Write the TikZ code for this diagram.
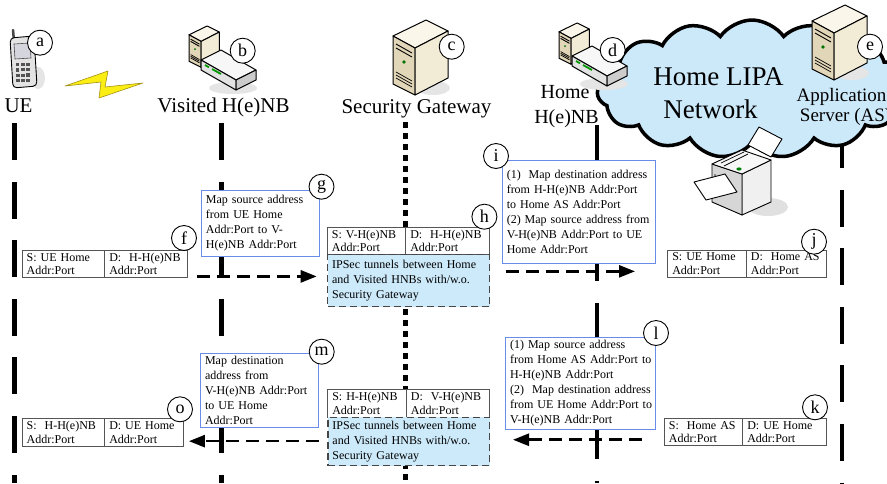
\documentclass[tikz,border=0pt]{standalone}
\usepackage{fontspec}
\setmainfont{Liberation Serif}
\usetikzlibrary{arrows.meta,shapes.symbols,calc}

\definecolor{notec}{RGB}{105,140,235}
\definecolor{cellc}{RGB}{85,85,85}
\definecolor{tunc}{RGB}{70,70,70}
\definecolor{tunfill}{RGB}{205,234,250}
\definecolor{cloudfill}{RGB}{204,233,250}
\definecolor{beigeR}{RGB}{242,235,214}
\definecolor{beigeL}{RGB}{226,214,184}
\definecolor{beigeT}{RGB}{250,246,234}
\definecolor{boltc}{RGB}{250,238,20}
\definecolor{boltline}{RGB}{165,145,20}

% one unbreakable line of box text
\newcommand\keepline[1]{\mbox{#1}}

% beige server tower, local frame 55 x 75, y pointing down
\newcommand\drawtower[2]{%
  \begin{scope}[shift={#1}, scale=#2]
    \fill[black!10] (40,68) ellipse (17 and 7);
    \filldraw[fill=beigeT, line width=1pt, line join=round] (0,16) -- (33,0) -- (55,11) -- (22,28) -- cycle;
    \filldraw[fill=beigeL, line width=1pt, line join=round] (0,16) -- (22,28) -- (22,75) -- (0,64) -- cycle;
    \filldraw[fill=beigeR, line width=1pt, line join=round] (22,28) -- (55,11) -- (55,58) -- (22,75) -- cycle;
    \draw[line width=0.9pt] (3,24) -- (19,33) (3,28) -- (19,37);
    \fill[green!45!black] (11,42) circle (1.8);
    \draw[line width=0.7pt] (3,52) -- (19,61) (3,55) -- (19,64) (3,58) -- (19,67);
  \end{scope}}

% flat access-point box, local frame 55 x 40
\newcommand\drawrouter[1]{%
  \begin{scope}[shift={#1}]
    \fill[black!10] (32,38) ellipse (24 and 6);
    \filldraw[fill=gray!6, line width=1pt, line join=round] (0,10) -- (20,0) -- (55,20) -- (35,30) -- cycle;
    \filldraw[fill=gray!22, line width=1pt, line join=round] (0,10) -- (35,30) -- (35,40) -- (0,20) -- cycle;
    \filldraw[fill=gray!40, line width=1pt, line join=round] (35,30) -- (55,20) -- (55,30) -- (35,40) -- cycle;
    \draw[green!60!black, line width=1.8pt] (4,15) -- (8,17.3) (11,19) -- (20,24);
  \end{scope}}

\begin{document}
\begin{tikzpicture}[x=1pt, y=-1pt,
  hdr/.style={font=\fontsize{21}{21}\selectfont, inner sep=0pt, anchor=base},
  hdrs/.style={font=\fontsize{20}{20}\selectfont, inner sep=0pt, anchor=base},
  hdrx/.style={font=\fontsize{19}{19}\selectfont, inner sep=0pt, anchor=base},
  big/.style={font=\fontsize{27}{27}\selectfont, inner sep=0pt, anchor=base},
  lifeline/.style={line width=4.5pt},
  longdash/.style={lifeline, dash pattern=on 37pt off 21.6pt},
  note/.style={rectangle, draw=notec, line width=1.1pt, fill=white, anchor=north west,
    inner xsep=4.5pt, inner ysep=0pt, align=left, font=\fontsize{12}{15}\selectfont},
  cell/.style={rectangle, draw=cellc, line width=0.9pt, fill=white, anchor=north west,
    inner xsep=4.5pt, inner ysep=0pt, align=left, font=\fontsize{12}{13.5}\selectfont},
  tunnel/.style={rectangle, draw=tunc, line width=1.3pt, dash pattern=on 7pt off 4pt, fill=tunfill,
    anchor=north west, inner xsep=4.5pt, inner ysep=0pt, align=left, font=\fontsize{12}{15}\selectfont},
  tag/.style={circle, draw, line width=0.9pt, fill=white, minimum size=25pt, inner sep=0pt,
    font=\fontsize{18}{18}\selectfont},
  msg/.style={line width=2.6pt, dash pattern=on 13pt off 7pt, -{Triangle[length=16pt,width=12pt]}}
]
\useasboundingbox (0,0) rectangle (887,483);
\clip (0,0) rectangle (887,483);
\fill[white] (0,0) rectangle (887,483);

% ---- lifelines ----
\draw[longdash] (14.6,123) -- (14.6,483);
\draw[longdash] (221.5,123) -- (221.5,483);
\draw[lifeline, dash pattern=on 6pt off 5pt] (405.5,122) -- (405.5,483);
\draw[lifeline, dash pattern=on 156pt off 22pt] (597,125) -- (597,483);
\draw[longdash] (842,131) -- (842,483);

% ---- entity labels ----
\node[hdr] (ueL) at (18.5,112) {UE};
\node[hdr] (visL) at (223.5,112) {Visited H(e)NB};
\node[hdr] (sgL) at (416.5,113) {Security Gateway};
\node[hdrs] (homeL1) at (565,98) {Home};
\node[hdrs] (homeL2) at (566.5,123) {H(e)NB};

% ---- home network cloud ----
\node[cloud, cloud puffs=15, cloud puff arc=110, cloud ignores aspect, draw, line width=3.5pt,
  fill=cloudfill, minimum width=310pt, minimum height=138pt] (lipa) at (752,89) {};
\node[big] (lipaT1) at (718.5,85) {Home LIPA};
\node[big] (lipaT2) at (710.5,118) {Network};
\node[hdrx] (asL1) at (841.5,101.7) {Application};
\node[hdrx] (asL2) at (845.6,121.7) {Server (AS)};

% ---- equipment ----
% handset
\begin{scope}[shift={(8,28)}]
  \fill[black!10] (30,50) ellipse (7 and 11);
  \draw[line width=2.5pt, gray!55!black, line cap=round] (5,2) -- (6,13);
  \filldraw[fill=gray!22, line width=0.9pt, rounded corners=4pt] (2,10) -- (26,8) -- (29,58) -- (5,60) -- cycle;
  \filldraw[fill=blue!10!gray!30, draw=gray!60!black, line width=0.6pt] (6,16) -- (22,15) -- (23,30) -- (7,31) -- cycle;
  \foreach \r in {0,...,3} {
    \foreach \c in {0,...,2} {
      \fill[gray!65!black] ($(7.5,35)+(\c*5.3,\r*5.4)+(\r*0.1,-\c*0.2)$) rectangle ++(3.8,3.2);
    }
  }
\end{scope}
% radio link
\filldraw[fill=boltc, draw=boltline, line width=0.6pt, line join=round]
  (65,86) -- (108,71) -- (105,87) -- (143,83) -- (99,98) -- (101,82) -- cycle;
% visited and home access points
\drawtower{(189,26)}{0.55}
\drawrouter{(201,50)}
\drawtower{(559,23)}{0.55}
\drawrouter{(572,46)}
% security gateway and application server
\drawtower{(393,20)}{1}
\drawtower{(812,5)}{1}
% printer
\fill[black!12] (768,207) ellipse (20 and 9);
\filldraw[fill=white, line width=0.9pt, line join=round] (748,145) -- (759,127) -- (782,139) -- (771,157) -- cycle;
\filldraw[fill=gray!12, line width=0.9pt, line join=round] (742,174) -- (771,160) -- (771,202) -- (742,215) -- cycle;
\filldraw[fill=gray!32, line width=0.9pt, line join=round] (712,164) -- (742,174) -- (742,215) -- (712,202) -- cycle;
\filldraw[fill=gray!6, line width=0.9pt, line join=round] (712,164) -- (742,150) -- (771,160) -- (742,174) -- cycle;
\draw[line width=0.7pt] (721,163) -- (744,152) (724,166) -- (748,154);
\fill[green!50!black] (739,169) ellipse (2.6 and 1.6);
\draw[line width=0.7pt] (715,174) -- (715,182) -- (723,185);
\filldraw[fill=white, line width=0.9pt, line join=round] (694,182) -- (725,174) -- (737,192) -- (706,200) -- cycle;

% ---- uplink: UE to home AS ----
\node[cell, minimum width=82.6pt, minimum height=27pt, text width=73.6pt] (fS) at (21.7,250)
  {\keepline{S: UE Home}\\\keepline{Addr:Port}};
\node[cell, minimum width=82.4pt, minimum height=27pt, text width=73.4pt] (fD) at (104.3,250)
  {\keepline{D:~~H-H(e)NB}\\\keepline{Addr:Port}};
\node[note, minimum width=117.8pt, minimum height=65.7pt, text width=108.8pt] (gN) at (200.9,190)
  {\keepline{Map source address}\\\keepline{from UE Home}\\\keepline{Addr:Port to V-}\\\keepline{H(e)NB Addr:Port}};
\node[cell, minimum width=78.3pt, minimum height=27pt, text width=69.3pt] (hS) at (327,227)
  {\keepline{S: V-H(e)NB}\\\keepline{Addr:Port}};
\node[cell, minimum width=83.7pt, minimum height=27pt, text width=74.7pt] (hD) at (405.3,227)
  {\keepline{D:~~H-H(e)NB}\\\keepline{Addr:Port}};
\node[tunnel, minimum width=162pt, minimum height=52pt, text width=153pt] (tun1) at (327,254)
  {\keepline{IPSec tunnels between Home}\\\keepline{and Visited HNBs with/w.o.}\\\keepline{Security Gateway}};
\node[note, minimum width=153.3pt, minimum height=102.7pt, text width=144.3pt] (iN) at (501.7,160)
  {\keepline{(1)~~Map destination address}\\\keepline{from H-H(e)NB Addr:Port}\\\keepline{to Home AS Addr:Port}\\
   \keepline{(2) Map source address from}\\\keepline{V-H(e)NB Addr:Port to UE}\\\keepline{Home Addr:Port}};
\node[cell, minimum width=78.7pt, minimum height=26.7pt, text width=69.7pt] (jS) at (667.3,250)
  {\keepline{S: UE Home}\\\keepline{Addr:Port}};
\node[cell, minimum width=80pt, minimum height=26.7pt, text width=71pt] (jD) at (746,250)
  {\keepline{D:~~Home AS}\\\keepline{Addr:Port}};

\draw[msg] ($(fD.south east)+(9,-1.5)$) -- ($(tun1.west |- fD.south east)+(-10.3,-1.5)$);
\draw[msg] ($(tun1.east)+(16,-9.3)$) -- ($(jS.west |- tun1.east)+(-32.3,-9.3)$);

% ---- downlink: home AS to UE ----
\node[cell, minimum width=78.3pt, minimum height=26.7pt, text width=69.3pt] (kS) at (664,418.3)
  {\keepline{S:~~Home AS}\\\keepline{Addr:Port}};
\node[cell, minimum width=83.7pt, minimum height=26.7pt, text width=74.7pt] (kD) at (742.3,418.3)
  {\keepline{D: UE Home}\\\keepline{Addr:Port}};
\node[note, minimum width=149.5pt, minimum height=92.6pt, text width=140.5pt] (lN) at (505,336.7)
  {\keepline{(1) Map source address}\\\keepline{from Home AS Addr:Port to}\\\keepline{H-H(e)NB Addr:Port}\\
   \keepline{(2)~~Map destination address}\\\keepline{from UE Home Addr:Port to}\\\keepline{V-H(e)NB Addr:Port}};
\node[cell, minimum width=78.7pt, minimum height=27.7pt, text width=69.7pt] (h2S) at (327.3,389)
  {\keepline{S: H-H(e)NB}\\\keepline{Addr:Port}};
\node[cell, minimum width=83pt, minimum height=27.7pt, text width=74pt] (h2D) at (406,389)
  {\keepline{D:~~V-H(e)NB}\\\keepline{Addr:Port}};
\node[tunnel, minimum width=161.7pt, minimum height=48.3pt, text width=152.7pt] (tun2) at (327.3,416.7)
  {\keepline{IPSec tunnels between Home}\\\keepline{and Visited HNBs with/w.o.}\\\keepline{Security Gateway}};
\node[note, minimum width=118.3pt, minimum height=73.4pt, text width=109.3pt] (mN) at (200,353.3)
  {\keepline{Map destination}\\\keepline{address from}\\\keepline{V-H(e)NB Addr:Port}\\\keepline{to UE Home}\\\keepline{Addr:Port}};
\node[cell, minimum width=82.6pt, minimum height=27.4pt, text width=73.6pt] (oS) at (21.7,418.3)
  {\keepline{S:~~H-H(e)NB}\\\keepline{Addr:Port}};
\node[cell, minimum width=79pt, minimum height=27.4pt, text width=70pt] (oD) at (104.3,418.3)
  {\keepline{D: UE Home}\\\keepline{Addr:Port}};

\draw[msg] ($(kS.west)+(-22.3,7.65)$) -- ($(tun2.east |- kS.west)+(22.7,7.65)$);
\draw[msg] ($(tun2.west |- oD.east)+(-8.6,8.7)$) -- ($(oD.east)+(4.7,8.7)$);

% ---- step tags ----
\node[tag] (ta) at (40,42.7) {a};
\node[tag] (tb) at (242.7,50.7) {b};
\node[tag] (tc) at (451.7,46.7) {c};
\node[tag] (td) at (612.7,50) {d};
\node[tag] (te) at (870,46.7) {e};
\node[tag] (tf) at (184,238) {f};
\node[tag] (tg) at (321.5,186.7) {g};
\node[tag] (th) at (484.4,216.7) {h};
\node[tag] (ti) at (496,156) {i};
\node[tag] (tj) at (814,241.7) {j};
\node[tag] (tk) at (815,407.3) {k};
\node[tag] (tl) at (656,333) {l};
\node[tag] (tm) at (321.7,351.7) {m};
\node[tag] (to) at (180,409.3) {o};
\end{tikzpicture}
\end{document}
